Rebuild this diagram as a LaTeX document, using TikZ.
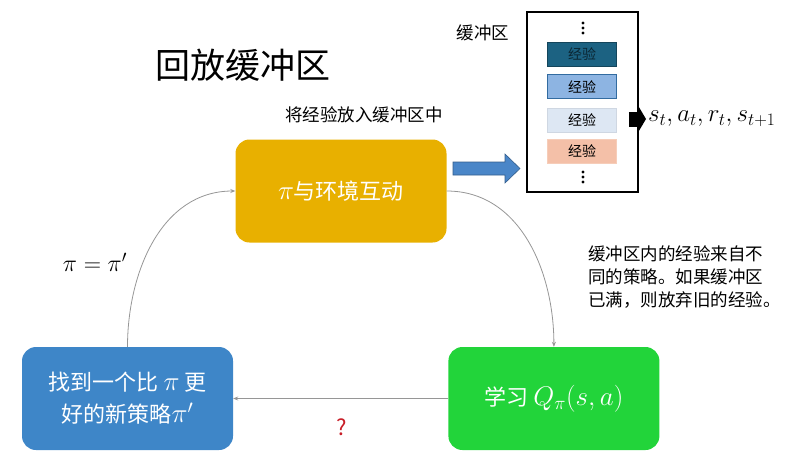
\RequirePackage{fix-cm}
\documentclass[tikz,border=0pt]{standalone}
\usepackage{fontspec}
\newfontfamily\cjk{Noto Sans CJK SC}
\usetikzlibrary{positioning,arrows.meta}
\definecolor{rbgold}{RGB}{232,176,0}
\definecolor{rbblue}{RGB}{62,134,200}
\definecolor{rbgreen}{RGB}{34,212,58}
\definecolor{rbline}{RGB}{150,150,150}
\definecolor{rbarrow}{RGB}{74,134,200}
\definecolor{rbteal}{RGB}{28,98,130}
\definecolor{rbsky}{RGB}{141,180,226}
\definecolor{rbpale}{RGB}{221,231,243}
\definecolor{rbsalmon}{RGB}{244,192,168}
\definecolor{rbred}{RGB}{200,30,40}
\newcommand{\boxmath}[1]{{\fontsize{27}{29}\selectfont$#1$}}
\tikzset{
  stage/.style={rounded corners=14pt, align=center, text=white, minimum width=211pt, minimum height=103pt, font=\cjk\fontsize{22}{29}\selectfont},
  memo/.style={draw, line width=0.6pt, minimum width=69pt, minimum height=24pt, inner sep=0pt, font=\cjk\fontsize{14}{16}\selectfont},
  flow/.style={-{Stealth[length=5pt,width=4pt]}, rbline, line width=0.8pt},
  caption/.style={font=\cjk\fontsize{17.5}{23}\selectfont, align=left, inner sep=0pt}
}

\begin{document}
\begin{tikzpicture}[x=1pt,y=-1pt]
        \useasboundingbox (0,0) rectangle (789,475);
        \node[font=\cjk\fontsize{35}{40}\selectfont] (title) at (243,65) {回放缓冲区};
        \node[stage, fill=rbgold] (env) at (341,191) {\boxmath{\pi}与环境互动};
        \node[stage, fill=rbblue] (improve) at (127.5,398.5) {找到一个比 \boxmath{\pi} 更\\[3pt]好的新策略\boxmath{\pi'}};
        \node[stage, fill=rbgreen, right=215pt of improve] (learn) {学习 \boxmath{Q_\pi(s,a)}};
        \node[caption] (put) at (364,115) {将经验放入缓冲区中};
        \node[draw, line width=1.6pt, minimum width=111pt, minimum height=180pt] (buf) at (582.5,102) {};
        \node[caption] (buflabel) at (483,33) {缓冲区};
        \node[memo, fill=rbteal, draw=rbteal!70!black, text=rbteal!40!black] (m1) at (582,54) {经验};
        \node[memo, fill=rbsky, draw=rbblue!80!black, below=8pt of m1] (m2) {经验};
        \node[memo, fill=rbpale, draw=rbpale!85!gray, below=9pt of m2] (m3) {经验};
        \node[memo, fill=rbsalmon, draw=rbsalmon!80!white, below=6pt of m3] (m4) {经验};
        \foreach \y in {23,28,33,172,177,182}
          \fill (583,\y) circle (1.6pt);
        % block arrow into the buffer
        \filldraw[fill=rbarrow, draw=rbarrow!70!black, line width=0.6pt] (453,162) -- (505,162) -- (505,154) -- (520,168.5) -- (505,183) -- (505,175) -- (453,175) -- cycle;
        \node[inner sep=0pt, anchor=west, font=\fontsize{25}{27}\selectfont] (tuple) at (648,119) {$s_t, a_t, r_t, s_{t+1}$};
        \draw[line width=15pt, -{Triangle[length=9pt,width=30pt]}] ([xshift=-10pt]buf.east |- tuple.west) -- ([xshift=-2pt]tuple.west);
        \draw[flow] (env.east) to[out=0,in=90] (learn.north);
        \draw[flow] (learn.west) -- (improve.east);
        \draw[flow] (improve.north) to[out=90,in=180] (env.west);
        \node[font=\fontsize{24}{26}\selectfont] (update) at (95,262) {$\pi = \pi'$};
        \node[caption, anchor=north west] (note) at (588,245) {缓冲区内的经验来自不\\同的策略。如果缓冲区\\已满，则放弃旧的经验。};
        \node[text=rbred, font=\cjk\fontsize{22}{24}\selectfont] (doubt) at (342,427) {?};
      \end{tikzpicture}
\end{document}
